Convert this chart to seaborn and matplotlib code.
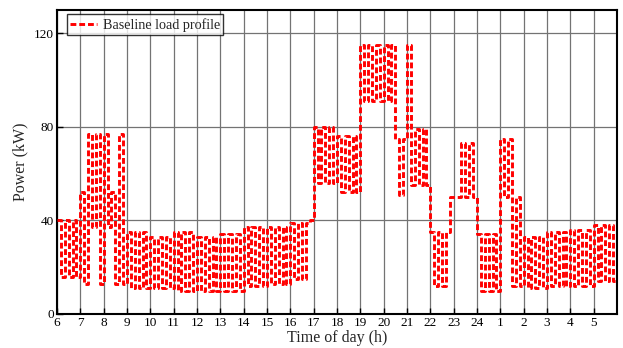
import numpy as np
import pandas as pd
import matplotlib
matplotlib.use("Agg")
import matplotlib.pyplot as plt
import seaborn as sns

# Hour-of-day labels (06:00 to 05:00 next day)
hour_labels = ["6", "7", "8", "9", "10", "11", "12", "13", "14", "15", "16", "17",
               "18", "19", "20", "21", "22", "23", "24", "1", "2", "3", "4", "5"]

# Load (kW) at each 10-minute step, one row per hour
q_6 = [40, 16, 40, 16, 40, 16]
q_7 = [52, 13, 77, 37, 77, 13]
q_8 = [77, 37, 52, 13, 77, 13]
q_9 = [35, 11, 35, 11, 35, 11]
q_10 = [33, 11, 33, 11, 33, 11]
q_11 = [35, 10, 35, 10, 35, 10]
q_12 = [33, 10, 33, 10, 33, 10]
q_13 = [34, 10, 34, 10, 34, 10]
q_14 = [37, 12, 37, 12, 37, 12]
q_15 = [37, 13, 37, 13, 37, 13]
q_16 = [39, 15, 39, 15, 39, 40]
q_17 = [80, 56, 80, 56, 80, 56]
q_18 = [76, 52, 76, 52, 76, 52]
q_19 = [115, 91, 115, 91, 115, 91]
q_20 = [115, 91, 115, 75, 51, 75]
q_21 = [115, 55, 79, 55, 79, 55]
q_22 = [35, 12, 35, 12, 35, 50]
q_23 = [50, 50, 73, 50, 73, 50]
q_24 = [34, 10, 34, 10, 34, 10]
q_1 = [75, 50, 75, 12, 50, 12]
q_2 = [33, 11, 33, 11, 33, 11]
q_3 = [35, 12, 35, 12, 35, 12]
q_4 = [36, 12, 36, 12, 36, 12]
q_5 = [38, 14, 38, 14, 38, 14]

hourly = [q_6, q_7, q_8, q_9, q_10, q_11, q_12, q_13, q_14, q_15, q_16, q_17,
          q_18, q_19, q_20, q_21, q_22, q_23, q_24, q_1, q_2, q_3, q_4, q_5]

power = [v for h in hourly for v in h]
power = power + [power[-1]]
t = np.arange(len(power)) / 6.0

df = pd.DataFrame({"t": t, "power": power})

sns.set_theme(style="white")
plt.rcParams["font.family"] = ["Liberation Serif", "DejaVu Serif"]

fig = plt.figure(figsize=(6.23, 3.48), dpi=100)
ax = fig.add_axes([57 / 623, 34 / 348, 560 / 623, 304 / 348])

sns.lineplot(data=df, x="t", y="power", ax=ax, color="#ff0000",
             estimator=None, sort=False, drawstyle="steps-post",
             linewidth=2.1, label="Baseline load profile", zorder=3)
line = ax.get_lines()[0]
line.set_dashes((2.0, 1.0))

ax.set_xlim(0, 24)
ax.set_ylim(0, 130)
ax.set_xticks(np.arange(24))
ax.set_xticklabels(hour_labels)
ax.set_yticks([0, 40, 80, 120])
ax.grid(True, color="0.45", linewidth=0.9)
ax.set_axisbelow(True)
ax.tick_params(direction="in", length=4, width=1, colors="black",
               labelsize=9.5, pad=2, left=True, bottom=True)
for s in ax.spines.values():
    s.set_color("black")
    s.set_linewidth(1.5)

ax.set_xlabel("Time of day (h)", fontsize=11.5, labelpad=1)
ax.set_ylabel("Power (kW)", fontsize=11.5, labelpad=4)

leg = ax.legend(loc="upper left", bbox_to_anchor=(0.012, 0.995), fontsize=10.2,
                frameon=True, fancybox=False, shadow=False, borderpad=0.25,
                handlelength=1.9, handletextpad=0.4, borderaxespad=0.2)
leg.get_frame().set_edgecolor("black")
leg.get_frame().set_linewidth(1.0)
leg.get_lines()[0].set_dashes((2.0, 1.0))

fig.savefig("out.png", dpi=100)
